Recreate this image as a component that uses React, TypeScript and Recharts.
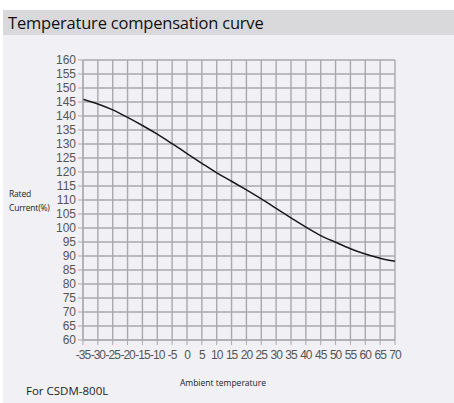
import React from "react";
import { LineChart, Line, XAxis, YAxis, CartesianGrid } from "recharts";

const temperatures = [-35, -30, -25, -20, -15, -10, -5, 0, 5, 10, 15, 20, 25, 30, 35, 40, 45, 50, 55, 60, 65, 70];
const ratedCurrent = [146, 144.3, 142.2, 139.5, 136.6, 133.5, 130.1, 126.6, 123.1, 119.7, 116.7, 113.6, 110.4, 107, 103.6, 100.3, 97.3, 94.9, 92.6, 90.7, 89.2, 88.1];
const yTicks = [60, 65, 70, 75, 80, 85, 90, 95, 100, 105, 110, 115, 120, 125, 130, 135, 140, 145, 150, 155, 160];
const xTicks = temperatures;

const title = "Temperature compensation curve";
const yLabel = ["Rated", "Current(%)"];
const xLabel = "Ambient temperature";
const footnote = "For CSDM-800L";

const data = temperatures.map((t, i) => ({ t, v: ratedCurrent[i] }));

const FONT = "'Open Sans', 'Noto Sans', sans-serif";
const TICK_FONT = "'Liberation Sans', Arial, sans-serif";
const GRID = "#a9a9ad";

export default function App() {
  return (
    <div style={{ position: "absolute", left: 0, top: 0, width: 454, height: 403, background: "#ffffff", fontFamily: FONT, overflow: "hidden" }}>
      <div style={{ position: "absolute", left: 3, top: 35, width: 451, height: 368, background: "#f1f1f5" }} />
      <div style={{ position: "absolute", left: 3, top: 10, width: 451, height: 25, background: "#d9d9db" }} />
      <div style={{ position: "absolute", left: 8, top: 10, height: 25, lineHeight: "25px", fontSize: 16.5, color: "#111", letterSpacing: -0.2 }}>{title}</div>
      <div style={{ position: "absolute", left: 0, top: 0 }}>
        <LineChart width={454} height={403} data={data} margin={{ left: 43, top: 60, right: 59, bottom: 33 }}>
          <CartesianGrid stroke={GRID} strokeWidth={1.4} />
          <XAxis
            dataKey="t"
            type="number"
            domain={[-35, 70]}
            ticks={xTicks}
            interval={0}
            height={30}
            tickSize={5}
            tickMargin={5}
            stroke={GRID}
            tick={{ fontSize: 12, fill: "#555", fontFamily: TICK_FONT, letterSpacing: -1 }}
          />
          <YAxis
            type="number"
            domain={[60, 160]}
            ticks={yTicks}
            interval={0}
            width={40}
            tickSize={5}
            tickMargin={2}
            stroke={GRID}
            tick={{ fontSize: 12, fill: "#555", fontFamily: TICK_FONT }}
          />
          <Line type="monotone" dataKey="v" stroke="#1a1a1a" strokeWidth={1.5} dot={false} isAnimationActive={false} />
        </LineChart>
      </div>
      <div style={{ position: "absolute", left: 9, top: 187, fontSize: 8.5, lineHeight: "14px", color: "#222", letterSpacing: -0.2 }}>
        {yLabel[0]}<br />{yLabel[1]}
      </div>
      <div style={{ position: "absolute", left: 123, width: 200, textAlign: "center", top: 377, fontSize: 8.5, color: "#222" }}>{xLabel}</div>
      <div style={{ position: "absolute", left: 26, top: 383, fontSize: 11.5, color: "#222" }}>{footnote}</div>
    </div>
  );
}
